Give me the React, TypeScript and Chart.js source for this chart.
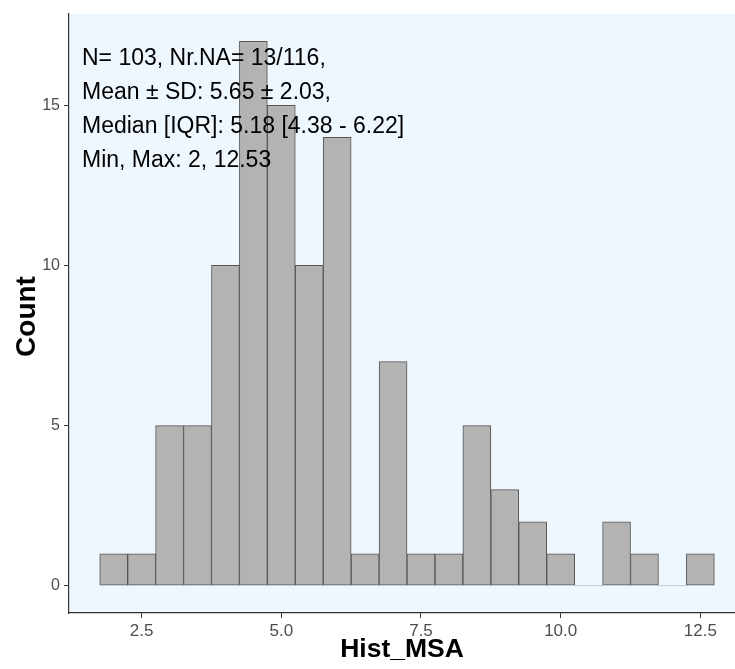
import React, { useEffect, useRef } from "react";
import { Chart, registerables } from "chart.js";

Chart.register(...registerables);

// ---- data ----
const binCenters = [2.0, 2.5, 3.0, 3.5, 4.0, 4.5, 5.0, 5.5, 6.0, 6.5, 7.0, 7.5, 8.0, 8.5, 9.0, 9.5, 10.0, 10.5, 11.0, 11.5, 12.0, 12.5];
const counts = [1, 1, 5, 5, 10, 17, 15, 10, 14, 1, 7, 1, 1, 5, 3, 2, 1, 0, 2, 1, 0, 1];
const xTicks = [2.5, 5.0, 7.5, 10.0, 12.5];
const yTicks = [0, 5, 10, 15];
const statsLines = [
  "N= 103, Nr.NA= 13/116,",
  "Mean ± SD: 5.65 ± 2.03,",
  "Median [IQR]: 5.18 [4.38 - 6.22]",
  "Min, Max: 2, 12.53",
];
const xTitle = "Hist_MSA";
const yTitle = "Count";

const FONT = '"Liberation Sans", Arial, Helvetica, sans-serif';
const PANEL_BG = "#EEF6FE";
const AXIS_COLOR = "#333333";
const TICK_TEXT = "#4D4D4D";

const decorPlugin = {
  id: "decor",
  beforeDraw(chart: any) {
    const { ctx, chartArea, width, height } = chart;
    ctx.save();
    ctx.fillStyle = "#FFFFFF";
    ctx.fillRect(0, 0, width, height);
    ctx.fillStyle = PANEL_BG;
    ctx.fillRect(chartArea.left, chartArea.top, chartArea.right - chartArea.left, chartArea.bottom - chartArea.top);
    ctx.restore();
  },
  afterDraw(chart: any) {
    const { ctx, chartArea } = chart;
    ctx.save();
    // stats annotation
    ctx.fillStyle = "#000000";
    ctx.font = `23px ${FONT}`;
    ctx.textAlign = "left";
    ctx.textBaseline = "middle";
    statsLines.forEach((line, i) => {
      ctx.fillText(line, chartArea.left + 13, chartArea.top + 45 + i * 33.9);
    });
    // axis titles
    ctx.font = `bold 26.5px ${FONT}`;
    ctx.textAlign = "center";
    ctx.textBaseline = "middle";
    ctx.fillText(xTitle, (chartArea.left + chartArea.right) / 2, 650);
    ctx.font = `bold 28px ${FONT}`;
    ctx.translate(27, (chartArea.top + chartArea.bottom) / 2 + 3);
    ctx.rotate(-Math.PI / 2);
    ctx.fillText(yTitle, 0, 0);
    ctx.restore();
  },
};

export default function App() {
  const canvasRef = useRef<HTMLCanvasElement | null>(null);

  useEffect(() => {
    const canvas = canvasRef.current;
    if (!canvas) return;
    const chart = new Chart(canvas, {
      type: "bar",
      data: {
        datasets: [
          {
            data: binCenters.map((x, i) => ({ x, y: counts[i] })),
            backgroundColor: "#B3B3B3",
            borderColor: "#555555",
            borderWidth: (c: any) => (c.raw && c.raw.y === 0 ? 0 : 1),
            borderSkipped: false,
            barPercentage: 1,
            categoryPercentage: 1,
          } as any,
        ],
      },
      options: {
        animation: false,
        responsive: false,
        maintainAspectRatio: false,
        layout: { padding: { top: 14, right: 0, left: 0, bottom: 0 } },
        plugins: { legend: { display: false }, tooltip: { enabled: false } },
        scales: {
          x: {
            type: "linear",
            min: 1.2,
            max: 13.12,
            offset: false,
            afterBuildTicks: (scale: any) => {
              scale.ticks = xTicks.map((v) => ({ value: v }));
            },
            afterFit: (scale: any) => {
              scale.height = 56;
            },
            ticks: {
              callback: (v: any) => Number(v).toFixed(1),
              color: TICK_TEXT,
              font: { family: FONT, size: 17 },
              padding: 3,
              maxRotation: 0,
              autoSkip: false,
            },
            grid: { display: true, offset: false, drawOnChartArea: false, drawTicks: true, tickLength: 5, color: AXIS_COLOR, lineWidth: 1 },
            border: { display: true, color: AXIS_COLOR, width: 1.2 },
          },
          y: {
            type: "linear",
            min: -0.85,
            max: 17.85,
            afterBuildTicks: (scale: any) => {
              scale.ticks = yTicks.map((v) => ({ value: v }));
            },
            afterFit: (scale: any) => {
              scale.width = 69;
            },
            ticks: {
              callback: (v: any) => String(v),
              color: TICK_TEXT,
              font: { family: FONT, size: 16 },
              padding: 4,
              autoSkip: false,
            },
            grid: { display: true, offset: false, drawOnChartArea: false, drawTicks: true, tickLength: 5, color: AXIS_COLOR, lineWidth: 1 },
            border: { display: true, color: AXIS_COLOR, width: 1.2 },
          },
        },
      },
      plugins: [decorPlugin],
    } as any);
    return () => chart.destroy();
  }, []);

  return (
    <div style={{ position: "absolute", left: 0, top: 0, width: 735, height: 669, background: "#fff" }}>
      <canvas ref={canvasRef} width={735} height={669} style={{ display: "block", width: 735, height: 669 }} />
    </div>
  );
}
